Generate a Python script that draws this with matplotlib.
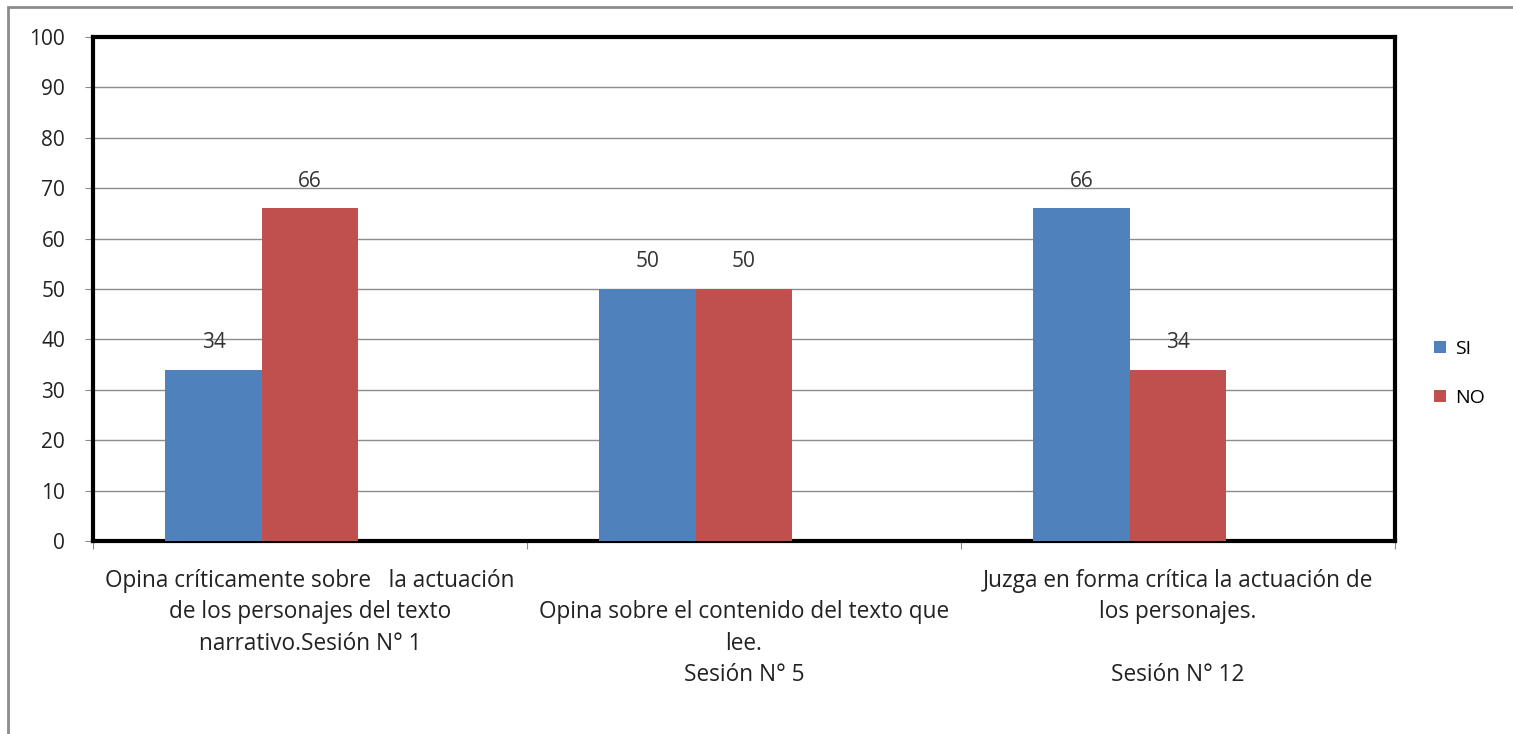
import numpy as np
import matplotlib.pyplot as plt
from matplotlib.patches import Rectangle

categorias = ["Opina críticamente sobre   la actuación\nde los personajes del texto\nnarrativo.Sesión N° 1",
              "\nOpina sobre el contenido del texto que\nlee.\nSesión N° 5",
              "Juzga en forma crítica la actuación de\nlos personajes.\n\nSesión N° 12"]
si = [34, 50, 66]
no = [66, 50, 34]

plt.rcParams['font.family'] = ['Open Sans', 'DejaVu Sans']

fig = plt.figure(figsize=(15.13, 7.34), dpi=100)
# marco exterior gris
fig.patches.append(Rectangle((8/1513, -0.05), 1.1, 1 - 7/734 + 0.05, transform=fig.transFigure,
                             fill=False, edgecolor='#8c8c8c', linewidth=2))
ax = fig.add_axes([93/1513, 1 - 541/734, (1395-93)/1513, (541-37)/734])

x = np.arange(len(categorias))
w = 0.222
# como en Excel: hay un hueco de una tercera serie vacia, por eso las barras van a la izquierda
b1 = ax.bar(x - w, si, w, color='#4F81BD', label='SI', zorder=3)
b2 = ax.bar(x, no, w, color='#C0504D', label='NO', zorder=3)
for bars in (b1, b2):
    for r in bars:
        ax.text(r.get_x() + r.get_width()/2, r.get_height() + 5.4, str(int(r.get_height())),
                ha='center', va='center', fontsize=15, color='#333333')

ax.set_xlim(-0.5, 2.5)
ax.set_ylim(0, 100)
ax.set_yticks(range(0, 101, 10))
ax.yaxis.grid(True, color='#8c8c8c', linewidth=1, zorder=0)
ax.set_xticks([-0.5, 0.5, 1.5, 2.5])
ax.set_xticklabels([])
ax.set_xticks(x, minor=True)
ax.set_xticklabels(categorias, minor=True, fontsize=16.3, color='#222222', linespacing=1.42)
ax.tick_params(axis='x', which='minor', length=0, pad=20)
ax.tick_params(axis='x', which='major', length=6, color='#8c8c8c')
ax.tick_params(axis='y', length=6, color='#8c8c8c', labelsize=15, labelcolor='#222222', pad=14)
for s in ax.spines.values():
    s.set_linewidth(3)
    s.set_color('black')

ax.legend(loc='center left', bbox_to_anchor=(1.03, 0.333), frameon=False, fontsize=14,
          handlelength=0.6, handleheight=0.6, labelspacing=1.6, handletextpad=0.5,
          borderpad=0, borderaxespad=0)

fig.savefig('out.png', dpi=100)
